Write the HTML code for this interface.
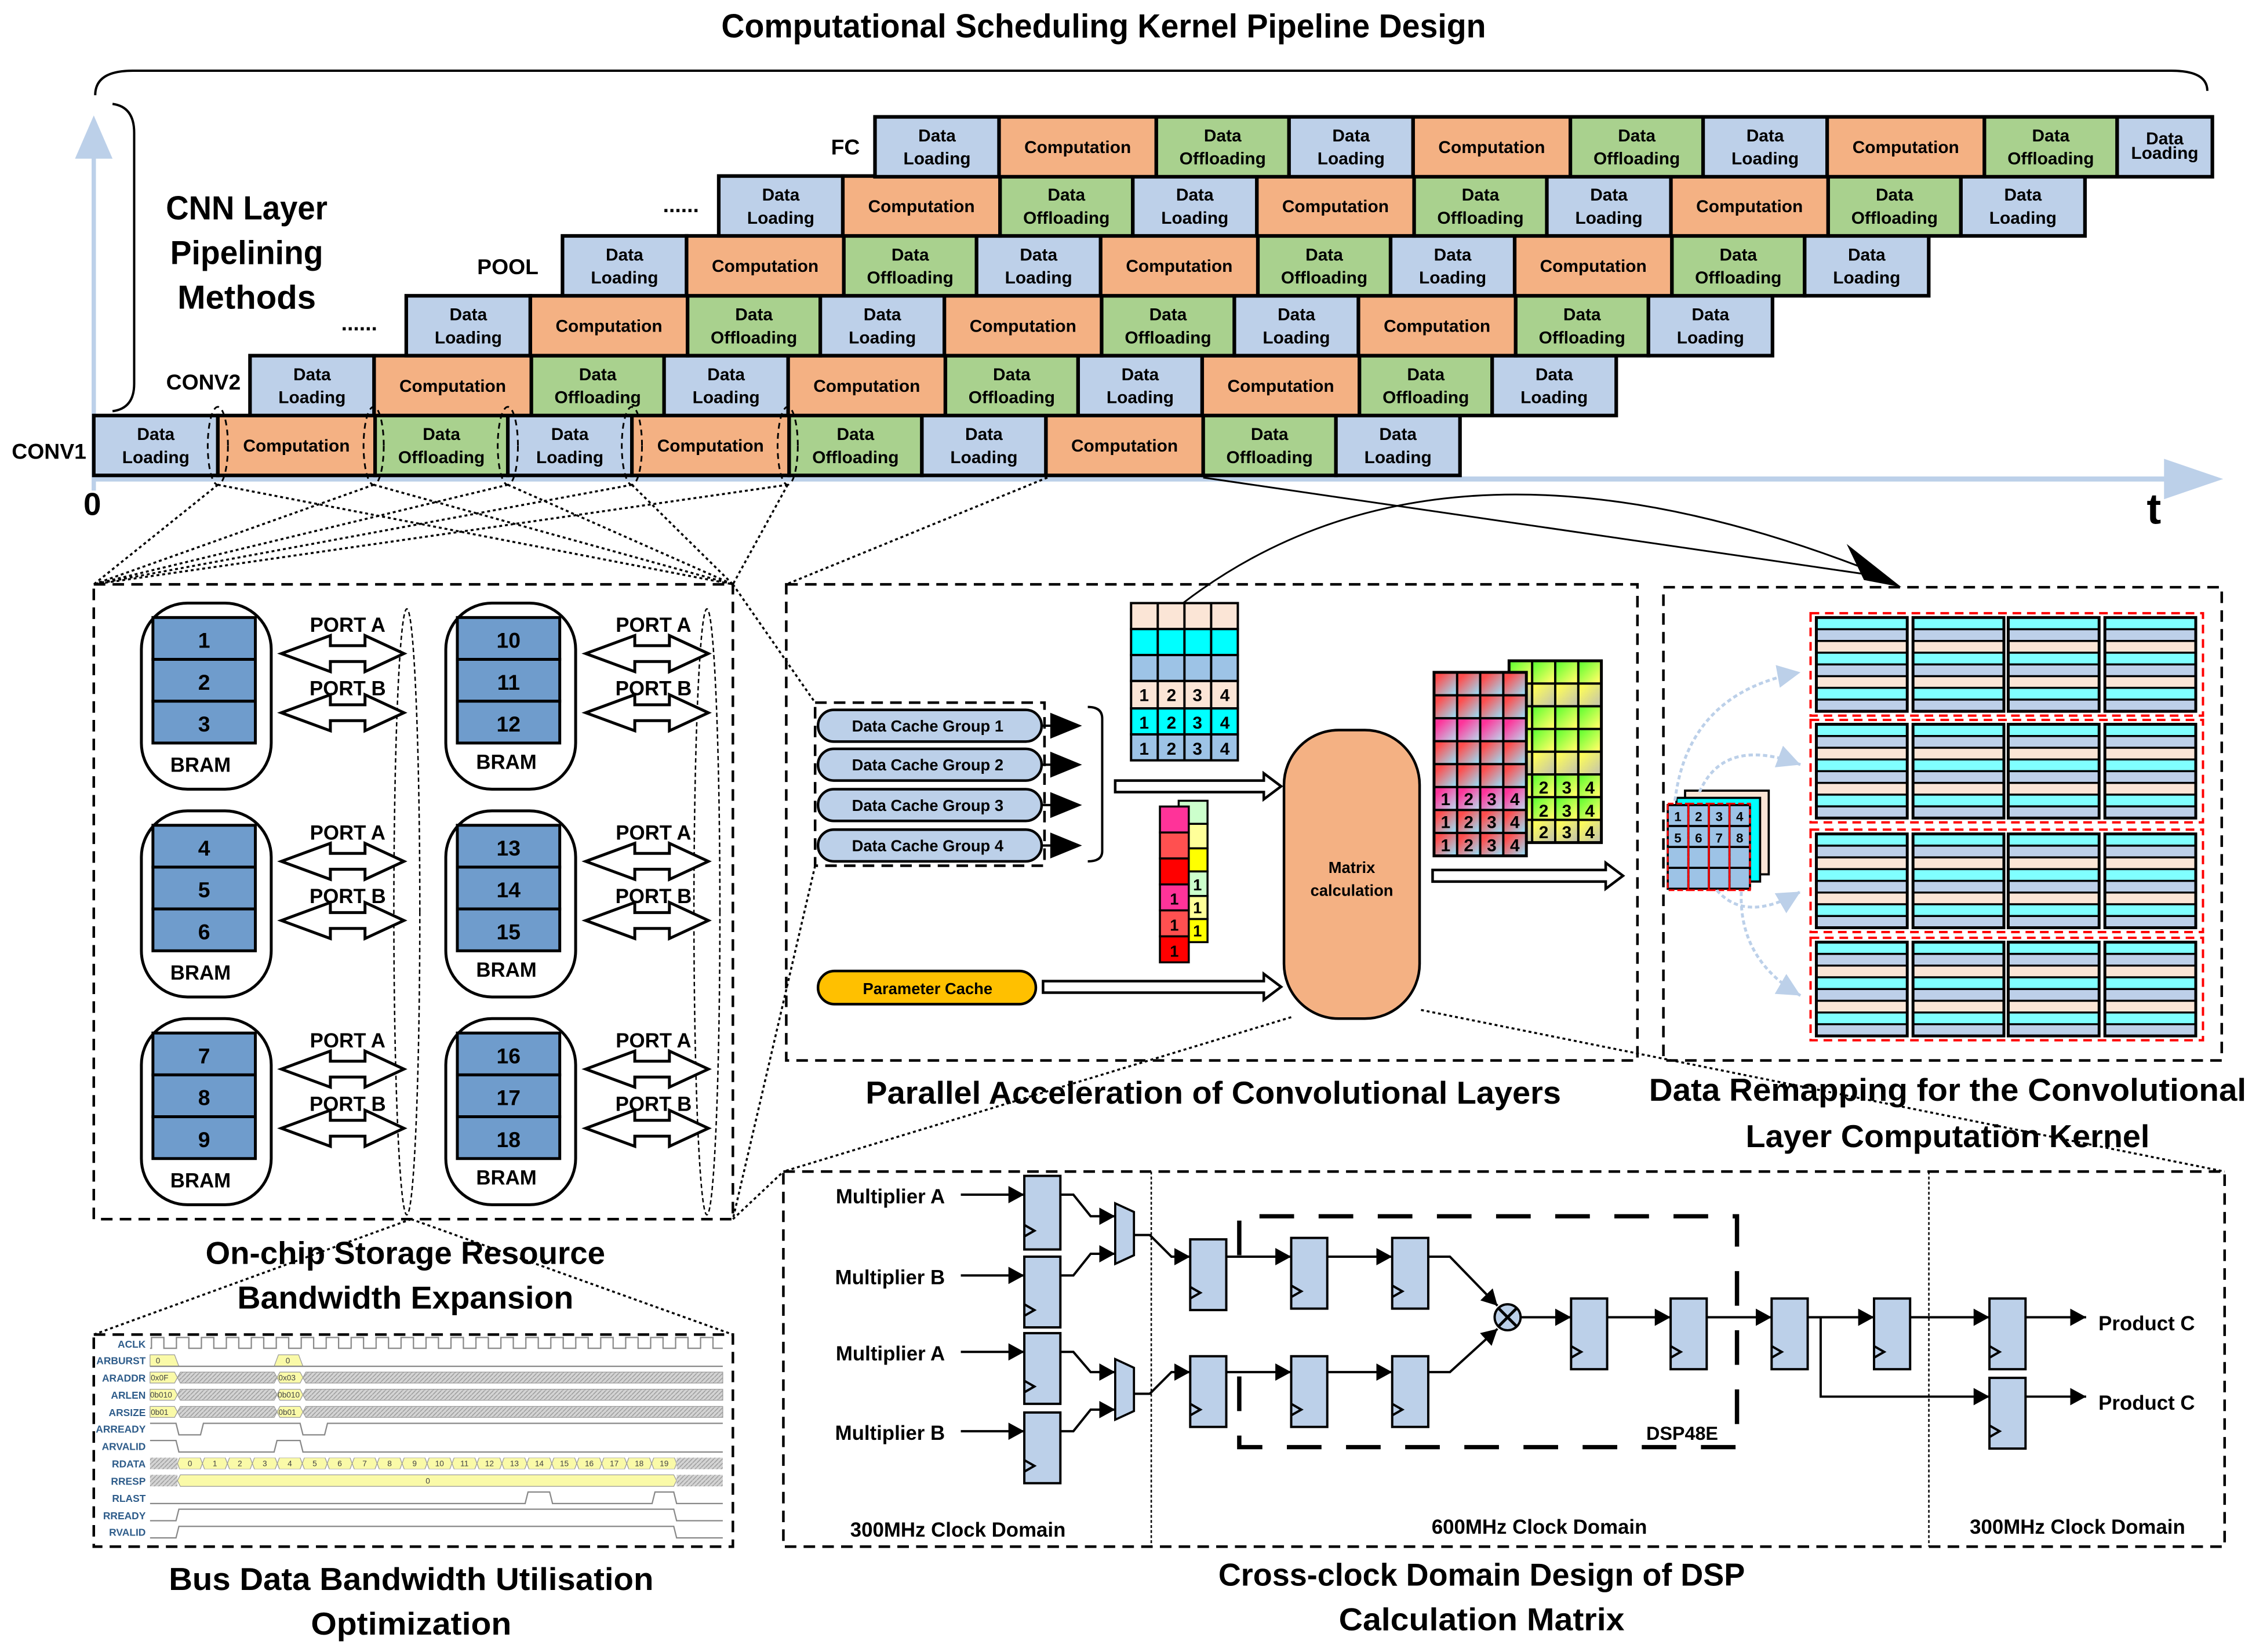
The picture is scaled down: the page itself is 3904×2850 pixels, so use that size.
<!DOCTYPE html>
<html><head><meta charset="utf-8"><style>
html,body{margin:0;padding:0;background:#fff}
svg{display:block}
text{font-family:"Liberation Sans Narrow","Liberation Sans",sans-serif;font-weight:bold;fill:#000}
.t{font-size:12px;text-anchor:middle}
.b{stroke:#000;stroke-width:2.5}
.dl{fill:#bdd0e9}.c{fill:#f4b183}.do{fill:#a9d18e}
.dot{stroke:#000;stroke-width:1.4;stroke-dasharray:2,2;fill:none}
.dsh{stroke:#000;stroke-width:1.8;stroke-dasharray:8,5;fill:none}
.reg{fill:#bcd0e9;stroke:#000;stroke-width:1.6}
.w{stroke:#000;stroke-width:1.6;fill:none}
.g{stroke:#888;stroke-width:0.9;fill:none}
.tl{font-size:7px;text-anchor:end;fill:#2e5c8a}
.tv{font-size:5.5px;fill:#444;font-weight:normal}
.cap{font-size:22px;text-anchor:middle}
</style></head><body>
<svg xmlns="http://www.w3.org/2000/svg" width="3904" height="2850" viewBox="0 0 1568.6 1145" preserveAspectRatio="none">
<defs>
<marker id="ah" markerUnits="userSpaceOnUse" markerWidth="14" markerHeight="14" refX="11" refY="6" orient="auto"><path d="M0,0 L11,6 L0,12 Z" fill="#000"/></marker>
<marker id="ahb" markerUnits="userSpaceOnUse" markerWidth="20" markerHeight="20" refX="16" refY="8" orient="auto"><path d="M0,0 L16,8 L0,16 Z" fill="#bcd0e9"/></marker>
<pattern id="clk" patternUnits="userSpaceOnUse" x="104" y="926" width="17.3" height="10"><path d="M0,8.5 H1 V1 H9.6 V8.5 H17.3" stroke="#888" stroke-width="0.9" fill="none"/></pattern>
<pattern id="hatch" patternUnits="userSpaceOnUse" width="3" height="3"><rect width="3" height="3" fill="#d4d4d4"/><path d="M0,3 L3,0" stroke="#999" stroke-width="0.6"/></pattern>
<pattern id="cell" patternUnits="userSpaceOnUse" x="123" y="1010.3" width="17.3" height="8"><polygon points="0,4 1.5,0 15.8,0 17.3,4 15.8,8 1.5,8" fill="#fafaa8" stroke="#999" stroke-width="0.5"/></pattern>
<linearGradient id="gr1" x1="0" y1="0" x2="1" y2="1"><stop offset="0.2" stop-color="#ff4d4d"/><stop offset="0.9" stop-color="#9fd6ee"/></linearGradient>
<linearGradient id="gr2" x1="0" y1="0" x2="1" y2="1"><stop offset="0.2" stop-color="#ff3399"/><stop offset="0.9" stop-color="#c0cce8"/></linearGradient>
<linearGradient id="gr3" x1="0" y1="0" x2="1" y2="1"><stop offset="0.1" stop-color="#66ff33"/><stop offset="0.9" stop-color="#ffff66"/></linearGradient>
<linearGradient id="gr4" x1="0" y1="0" x2="1" y2="1"><stop offset="0.1" stop-color="#ffff55"/><stop offset="0.9" stop-color="#c8c8a8"/></linearGradient>
<pattern id="pf1" patternUnits="userSpaceOnUse" x="994" y="466" width="16" height="15.9"><rect width="16" height="15.9" fill="url(#gr1)" stroke="#000" stroke-width="1.6"/></pattern>
<pattern id="pf2" patternUnits="userSpaceOnUse" x="994" y="466" width="16" height="15.9"><rect width="16" height="15.9" fill="url(#gr2)" stroke="#000" stroke-width="1.6"/></pattern>
<pattern id="pb1" patternUnits="userSpaceOnUse" x="1046" y="458" width="16" height="15.75"><rect width="16" height="15.75" fill="url(#gr3)" stroke="#000" stroke-width="1.6"/></pattern>
<pattern id="pb2" patternUnits="userSpaceOnUse" x="1046" y="458" width="16" height="15.75"><rect width="16" height="15.75" fill="url(#gr4)" stroke="#000" stroke-width="1.6"/></pattern>
<g id="rcol">
<rect x="0" y="0" width="63" height="8.125" fill="#80ffff"/><rect x="0" y="8.125" width="63" height="8.125" fill="#bdd0e9"/><rect x="0" y="16.25" width="63" height="8.125" fill="#fbe5d6"/><rect x="0" y="24.375" width="63" height="8.125" fill="#80ffff"/><rect x="0" y="32.5" width="63" height="8.125" fill="#bdd0e9"/><rect x="0" y="40.625" width="63" height="8.125" fill="#fbe5d6"/><rect x="0" y="48.75" width="63" height="8.125" fill="#80ffff"/><rect x="0" y="56.875" width="63" height="8.125" fill="#bdd0e9"/>
<path d="M0,8.125H63M0,16.25H63M0,24.375H63M0,32.5H63M0,40.625H63M0,48.75H63M0,56.875H63" stroke="#000" stroke-width="1.4"/>
<rect x="0" y="0" width="63" height="65" fill="none" stroke="#000" stroke-width="2"/>
</g>
<g id="rgrp">
<rect x="-4" y="-3" width="272" height="71" fill="none" stroke="#ff0000" stroke-width="1.6" stroke-dasharray="6,4"/>
<use href="#rcol" x="0"/><use href="#rcol" x="67"/><use href="#rcol" x="133"/><use href="#rcol" x="200"/>
</g>
<g id="bus">
<polygon points="104,-3.8 121,-3.8 123,0 121,3.8 104,3.8" fill="#fafaa8" stroke="#999" stroke-width="0.5"/>
<polygon points="123,0 125,-3.8 190,-3.8 192,0 190,3.8 125,3.8" fill="url(#hatch)" stroke="#999" stroke-width="0.5"/>
<polygon points="192,0 194,-3.8 208,-3.8 210,0 208,3.8 194,3.8" fill="#fafaa8" stroke="#999" stroke-width="0.5"/>
<polygon points="210,0 212,-3.8 501,-3.8 501,3.8 212,3.8" fill="url(#hatch)" stroke="#999" stroke-width="0.5"/>
</g>
<g id="dreg"><rect class="reg" x="0" y="0" width="25" height="49"/><polyline class="w" stroke-width="1.2" points="0,33 7,37 0,41"/></g>
<g id="dreg2"><rect class="reg" x="0" y="0" width="25" height="51"/><polyline class="w" stroke-width="1.2" points="0,34 7,38 0,42"/></g>
</defs>

<text x="765" y="26" font-size="23" text-anchor="middle" textLength="530" lengthAdjust="spacingAndGlyphs">Computational Scheduling Kernel Pipeline Design</text>
<path d="M66,66 Q66,49 92,49 L1505,49 Q1530,49 1530,63" class="w" stroke-width="2.5"/>
<path d="M78,72 Q93,74 93,92 L93,266 Q93,283 78,285" class="w" stroke-width="2.5"/>
<text x="171" y="152" font-size="23" text-anchor="middle" textLength="112" lengthAdjust="spacingAndGlyphs">CNN Layer</text>
<text x="171" y="183" font-size="23" text-anchor="middle" textLength="106" lengthAdjust="spacingAndGlyphs">Pipelining</text>
<text x="171" y="214" font-size="23" text-anchor="middle" textLength="96" lengthAdjust="spacingAndGlyphs">Methods</text>

<line x1="65" y1="340" x2="65" y2="108" stroke="#bcd0e9" stroke-width="3"/>
<polygon points="52,110 65,80 78,110" fill="#bcd0e9"/>
<line x1="65" y1="332" x2="1505" y2="332" stroke="#bcd0e9" stroke-width="3.5"/>
<polygon points="1500,318 1541,332 1500,346" fill="#bcd0e9"/>
<text x="64" y="357" font-size="22" text-anchor="middle">0</text>
<text x="1493" y="363" font-size="30" text-anchor="middle">t</text>

<text x="34" y="318" font-size="15" text-anchor="middle">CONV1</text>
<text x="141" y="270" font-size="15" text-anchor="middle">CONV2</text>
<text x="249" y="229" font-size="15" text-anchor="middle">......</text>
<text x="352" y="190" font-size="15" text-anchor="middle">POOL</text>
<text x="472" y="147" font-size="15" text-anchor="middle">......</text>
<text x="586" y="107" font-size="15" text-anchor="middle">FC</text>

<g transform="translate(65,288)">
<g><rect class="b dl" x="0" width="86" height="41.5"/><text class="t" x="43" y="17">Data</text><text class="t" x="43" y="33">Loading</text><rect class="b c" x="86" width="109" height="41.5"/><text class="t" x="140.5" y="25">Computation</text><rect class="b do" x="195" width="92" height="41.5"/><text class="t" x="241" y="17">Data</text><text class="t" x="241" y="33">Offloading</text></g>
<g transform="translate(287,0)"><rect class="b dl" x="0" width="86" height="41.5"/><text class="t" x="43" y="17">Data</text><text class="t" x="43" y="33">Loading</text><rect class="b c" x="86" width="109" height="41.5"/><text class="t" x="140.5" y="25">Computation</text><rect class="b do" x="195" width="92" height="41.5"/><text class="t" x="241" y="17">Data</text><text class="t" x="241" y="33">Offloading</text></g>
<g transform="translate(574,0)"><rect class="b dl" x="0" width="86" height="41.5"/><text class="t" x="43" y="17">Data</text><text class="t" x="43" y="33">Loading</text><rect class="b c" x="86" width="109" height="41.5"/><text class="t" x="140.5" y="25">Computation</text><rect class="b do" x="195" width="92" height="41.5"/><text class="t" x="241" y="17">Data</text><text class="t" x="241" y="33">Offloading</text></g>
<g transform="translate(861,0)"><rect class="b dl" x="0" width="86" height="41.5"/><text class="t" x="43" y="17">Data</text><text class="t" x="43" y="33">Loading</text></g>
</g>
<g transform="translate(173.3,246.5)">
<g><rect class="b dl" x="0" width="86" height="41.5"/><text class="t" x="43" y="17">Data</text><text class="t" x="43" y="33">Loading</text><rect class="b c" x="86" width="109" height="41.5"/><text class="t" x="140.5" y="25">Computation</text><rect class="b do" x="195" width="92" height="41.5"/><text class="t" x="241" y="17">Data</text><text class="t" x="241" y="33">Offloading</text></g>
<g transform="translate(287,0)"><rect class="b dl" x="0" width="86" height="41.5"/><text class="t" x="43" y="17">Data</text><text class="t" x="43" y="33">Loading</text><rect class="b c" x="86" width="109" height="41.5"/><text class="t" x="140.5" y="25">Computation</text><rect class="b do" x="195" width="92" height="41.5"/><text class="t" x="241" y="17">Data</text><text class="t" x="241" y="33">Offloading</text></g>
<g transform="translate(574,0)"><rect class="b dl" x="0" width="86" height="41.5"/><text class="t" x="43" y="17">Data</text><text class="t" x="43" y="33">Loading</text><rect class="b c" x="86" width="109" height="41.5"/><text class="t" x="140.5" y="25">Computation</text><rect class="b do" x="195" width="92" height="41.5"/><text class="t" x="241" y="17">Data</text><text class="t" x="241" y="33">Offloading</text></g>
<g transform="translate(861,0)"><rect class="b dl" x="0" width="86" height="41.5"/><text class="t" x="43" y="17">Data</text><text class="t" x="43" y="33">Loading</text></g>
</g>
<g transform="translate(281.6,205)">
<g><rect class="b dl" x="0" width="86" height="41.5"/><text class="t" x="43" y="17">Data</text><text class="t" x="43" y="33">Loading</text><rect class="b c" x="86" width="109" height="41.5"/><text class="t" x="140.5" y="25">Computation</text><rect class="b do" x="195" width="92" height="41.5"/><text class="t" x="241" y="17">Data</text><text class="t" x="241" y="33">Offloading</text></g>
<g transform="translate(287,0)"><rect class="b dl" x="0" width="86" height="41.5"/><text class="t" x="43" y="17">Data</text><text class="t" x="43" y="33">Loading</text><rect class="b c" x="86" width="109" height="41.5"/><text class="t" x="140.5" y="25">Computation</text><rect class="b do" x="195" width="92" height="41.5"/><text class="t" x="241" y="17">Data</text><text class="t" x="241" y="33">Offloading</text></g>
<g transform="translate(574,0)"><rect class="b dl" x="0" width="86" height="41.5"/><text class="t" x="43" y="17">Data</text><text class="t" x="43" y="33">Loading</text><rect class="b c" x="86" width="109" height="41.5"/><text class="t" x="140.5" y="25">Computation</text><rect class="b do" x="195" width="92" height="41.5"/><text class="t" x="241" y="17">Data</text><text class="t" x="241" y="33">Offloading</text></g>
<g transform="translate(861,0)"><rect class="b dl" x="0" width="86" height="41.5"/><text class="t" x="43" y="17">Data</text><text class="t" x="43" y="33">Loading</text></g>
</g>
<g transform="translate(389.9,163.5)">
<g><rect class="b dl" x="0" width="86" height="41.5"/><text class="t" x="43" y="17">Data</text><text class="t" x="43" y="33">Loading</text><rect class="b c" x="86" width="109" height="41.5"/><text class="t" x="140.5" y="25">Computation</text><rect class="b do" x="195" width="92" height="41.5"/><text class="t" x="241" y="17">Data</text><text class="t" x="241" y="33">Offloading</text></g>
<g transform="translate(287,0)"><rect class="b dl" x="0" width="86" height="41.5"/><text class="t" x="43" y="17">Data</text><text class="t" x="43" y="33">Loading</text><rect class="b c" x="86" width="109" height="41.5"/><text class="t" x="140.5" y="25">Computation</text><rect class="b do" x="195" width="92" height="41.5"/><text class="t" x="241" y="17">Data</text><text class="t" x="241" y="33">Offloading</text></g>
<g transform="translate(574,0)"><rect class="b dl" x="0" width="86" height="41.5"/><text class="t" x="43" y="17">Data</text><text class="t" x="43" y="33">Loading</text><rect class="b c" x="86" width="109" height="41.5"/><text class="t" x="140.5" y="25">Computation</text><rect class="b do" x="195" width="92" height="41.5"/><text class="t" x="241" y="17">Data</text><text class="t" x="241" y="33">Offloading</text></g>
<g transform="translate(861,0)"><rect class="b dl" x="0" width="86" height="41.5"/><text class="t" x="43" y="17">Data</text><text class="t" x="43" y="33">Loading</text></g>
</g>
<g transform="translate(498.2,122)">
<g><rect class="b dl" x="0" width="86" height="41.5"/><text class="t" x="43" y="17">Data</text><text class="t" x="43" y="33">Loading</text><rect class="b c" x="86" width="109" height="41.5"/><text class="t" x="140.5" y="25">Computation</text><rect class="b do" x="195" width="92" height="41.5"/><text class="t" x="241" y="17">Data</text><text class="t" x="241" y="33">Offloading</text></g>
<g transform="translate(287,0)"><rect class="b dl" x="0" width="86" height="41.5"/><text class="t" x="43" y="17">Data</text><text class="t" x="43" y="33">Loading</text><rect class="b c" x="86" width="109" height="41.5"/><text class="t" x="140.5" y="25">Computation</text><rect class="b do" x="195" width="92" height="41.5"/><text class="t" x="241" y="17">Data</text><text class="t" x="241" y="33">Offloading</text></g>
<g transform="translate(574,0)"><rect class="b dl" x="0" width="86" height="41.5"/><text class="t" x="43" y="17">Data</text><text class="t" x="43" y="33">Loading</text><rect class="b c" x="86" width="109" height="41.5"/><text class="t" x="140.5" y="25">Computation</text><rect class="b do" x="195" width="92" height="41.5"/><text class="t" x="241" y="17">Data</text><text class="t" x="241" y="33">Offloading</text></g>
<g transform="translate(861,0)"><rect class="b dl" x="0" width="86" height="41.5"/><text class="t" x="43" y="17">Data</text><text class="t" x="43" y="33">Loading</text></g>
</g>
<g transform="translate(606.5,81)">
<g><rect class="b dl" x="0" width="86" height="41.5"/><text class="t" x="43" y="17">Data</text><text class="t" x="43" y="33">Loading</text><rect class="b c" x="86" width="109" height="41.5"/><text class="t" x="140.5" y="25">Computation</text><rect class="b do" x="195" width="92" height="41.5"/><text class="t" x="241" y="17">Data</text><text class="t" x="241" y="33">Offloading</text></g>
<g transform="translate(287,0)"><rect class="b dl" x="0" width="86" height="41.5"/><text class="t" x="43" y="17">Data</text><text class="t" x="43" y="33">Loading</text><rect class="b c" x="86" width="109" height="41.5"/><text class="t" x="140.5" y="25">Computation</text><rect class="b do" x="195" width="92" height="41.5"/><text class="t" x="241" y="17">Data</text><text class="t" x="241" y="33">Offloading</text></g>
<g transform="translate(574,0)"><rect class="b dl" x="0" width="86" height="41.5"/><text class="t" x="43" y="17">Data</text><text class="t" x="43" y="33">Loading</text><rect class="b c" x="86" width="109" height="41.5"/><text class="t" x="140.5" y="25">Computation</text><rect class="b do" x="195" width="92" height="41.5"/><text class="t" x="241" y="17">Data</text><text class="t" x="241" y="33">Offloading</text></g>
<g transform="translate(861,0)"><rect class="b dl" x="0" width="66" height="41.5"/><text class="t" x="33" y="19" font-size="8">Data</text><text class="t" x="33" y="29" font-size="8">Loading</text></g>
</g>

<g fill="none" stroke="#000" stroke-width="1.2" stroke-dasharray="4,3">
<ellipse cx="151" cy="309" rx="7" ry="27"/><ellipse cx="259" cy="309" rx="7" ry="27"/><ellipse cx="352" cy="309" rx="7" ry="27"/><ellipse cx="438" cy="309" rx="7" ry="27"/><ellipse cx="546" cy="309" rx="7" ry="27"/>
</g>
<path class="dot" d="M151,336 L65,405 M151,336 L508,405 M259,336 L65,405 M259,336 L508,405 M352,336 L65,405 M352,336 L508,405 M438,336 L65,405 M438,336 L508,405 M546,336 L65,405 M546,336 L508,405"/>
<path class="dot" d="M726,331 L545,405 M508,405 L565,487 M565,600 L508,845 M508,845 L543,812 M285,845 L65,925 M285,845 L508,925 M895,705 L543,812 M985,700 L1542,812"/>

<path d="M834,331 L1300,399" stroke="#000" stroke-width="1.2" fill="none"/>
<path d="M820,418 Q1000,280 1295,395" stroke="#000" stroke-width="1.2" fill="none"/>
<polygon points="1318,407 1280,377 1292,402" fill="#000"/>

<rect class="dsh" x="65" y="405" width="443" height="440" stroke-width="1.8" stroke-dasharray="9,5"/>
<g fill="none" stroke="#000" stroke-width="1" stroke-dasharray="3,2"><ellipse cx="282" cy="632" rx="9" ry="210"/><ellipse cx="490" cy="632" rx="9" ry="210"/></g>
<g id="bramset">
<rect x="98" y="418" width="90" height="129" rx="32" fill="#fff" stroke="#000" stroke-width="2"/>
<rect x="106" y="428" width="71" height="29" fill="#6f9ccc" stroke="#000" stroke-width="2"/><rect x="106" y="457" width="71" height="29" fill="#6f9ccc" stroke="#000" stroke-width="2"/><rect x="106" y="486" width="71" height="29" fill="#6f9ccc" stroke="#000" stroke-width="2"/>
<path d="M195,453 L229,440.5 L229,447.5 L253,447.5 L253,440.5 L280,453 L253,465.5 L253,458.5 L229,458.5 L229,465.5 Z M195,494 L229,481.5 L229,488.5 L253,488.5 L253,481.5 L280,494 L253,506.5 L253,499.5 L229,499.5 L229,506.5 Z" fill="#fff" stroke="#000" stroke-width="2"/>
</g>
<use href="#bramset" y="144"/><use href="#bramset" y="288"/>
<use href="#bramset" x="211"/><use href="#bramset" x="211" y="144"/><use href="#bramset" x="211" y="288"/>
<g font-size="15" text-anchor="middle">
<text x="141.5" y="449">1</text><text x="141.5" y="478">2</text><text x="141.5" y="507">3</text>
<text x="141.5" y="593">4</text><text x="141.5" y="622">5</text><text x="141.5" y="651">6</text>
<text x="141.5" y="737">7</text><text x="141.5" y="766">8</text><text x="141.5" y="795">9</text>
<text x="352.5" y="449">10</text><text x="352.5" y="478">11</text><text x="352.5" y="507">12</text>
<text x="352.5" y="593">13</text><text x="352.5" y="622">14</text><text x="352.5" y="651">15</text>
<text x="352.5" y="737">16</text><text x="352.5" y="766">17</text><text x="352.5" y="795">18</text>
</g>
<g font-size="14" text-anchor="middle">
<text x="139" y="535">BRAM</text><text x="139" y="679">BRAM</text><text x="139" y="823">BRAM</text>
<text x="351" y="533">BRAM</text><text x="351" y="677">BRAM</text><text x="351" y="821">BRAM</text>
<text x="241" y="438">PORT A</text><text x="241" y="482">PORT B</text><text x="241" y="582">PORT A</text><text x="241" y="626">PORT B</text><text x="241" y="726">PORT A</text><text x="241" y="770">PORT B</text>
<text x="453" y="438">PORT A</text><text x="453" y="482">PORT B</text><text x="453" y="582">PORT A</text><text x="453" y="626">PORT B</text><text x="453" y="726">PORT A</text><text x="453" y="770">PORT B</text>
</g>
<text class="cap" x="281" y="876" textLength="277" lengthAdjust="spacingAndGlyphs">On-chip Storage Resource</text>
<text class="cap" x="281" y="907" textLength="233" lengthAdjust="spacingAndGlyphs">Bandwidth Expansion</text>

<rect class="dsh" x="65" y="925" width="443" height="147" stroke-dasharray="7,4"/>
<rect x="104" y="926" width="397" height="10" fill="url(#clk)"/>
<polygon points="104,939 121,939 124,947 104,947" fill="#fafaa8" stroke="#999" stroke-width="0.5"/>
<polygon points="190,947 193,939 207,939 210,947" fill="#fafaa8" stroke="#999" stroke-width="0.5"/>
<line x1="104" y1="947" x2="501" y2="947" class="g"/>
<use href="#bus" y="954.8"/><use href="#bus" y="966.7"/><use href="#bus" y="978.6"/>
<polyline class="g" points="104,986.5 122,986.5 124,994.5 139,994.5 141,986.5 208,986.5 210,994.5 225,994.5 227,986.5 501,986.5"/>
<polyline class="g" points="104,998.4 122,998.4 124,1006.4 190,1006.4 192,998.4 208,998.4 210,1006.4 501,1006.4"/>
<rect x="104" y="1010.3" width="19" height="8" fill="url(#hatch)"/>
<rect x="123" y="1010.3" width="346" height="8" fill="url(#cell)"/>
<rect x="469" y="1010.3" width="32" height="8" fill="url(#hatch)"/>
<rect x="104" y="1022.2" width="19" height="8" fill="url(#hatch)"/>
<polygon points="123,1026.2 125,1022.2 467,1022.2 469,1026.2 467,1030.2 125,1030.2" fill="#fafaa8" stroke="#999" stroke-width="0.5"/>
<rect x="469" y="1022.2" width="32" height="8" fill="url(#hatch)"/>
<polyline class="g" points="104,1042.1 364,1042.1 366,1034.1 381,1034.1 383,1042.1 452,1042.1 454,1034.1 467,1034.1 469,1042.1 501,1042.1"/>
<polyline class="g" points="104,1054 122,1054 124,1046 467,1046 469,1054 501,1054"/>
<polyline class="g" points="104,1065.9 122,1065.9 124,1057.9 467,1057.9 469,1065.9 501,1065.9"/>
<g class="tl">
<text class="tl" x="101" y="934">ACLK</text><text class="tl" x="101" y="945.5">ARBURST</text><text class="tl" x="101" y="957.5">ARADDR</text><text class="tl" x="101" y="969.5">ARLEN</text><text class="tl" x="101" y="981.5">ARSIZE</text><text class="tl" x="101" y="993">ARREADY</text><text class="tl" x="101" y="1005">ARVALID</text><text class="tl" x="101" y="1017">RDATA</text><text class="tl" x="101" y="1029">RRESP</text><text class="tl" x="101" y="1041">RLAST</text><text class="tl" x="101" y="1053">RREADY</text><text class="tl" x="101" y="1064.5">RVALID</text>
</g>
<g class="tv">
<text class="tv" x="108" y="945">0</text><text class="tv" x="198" y="945">0</text>
<text class="tv" x="104.5" y="956.8">0x0F</text><text class="tv" x="193" y="956.8">0x03</text>
<text class="tv" x="104" y="968.7">0b010</text><text class="tv" x="192.5" y="968.7">0b010</text>
<text class="tv" x="104.5" y="980.6">0b01</text><text class="tv" x="193" y="980.6">0b01</text>
<text class="tv" x="295" y="1028.2">0</text>
</g>
<g class="tv" text-anchor="middle">
<text class="tv" text-anchor="middle" x="131.65" y="1016.3">0</text><text class="tv" text-anchor="middle" x="148.95" y="1016.3">1</text><text class="tv" text-anchor="middle" x="166.25" y="1016.3">2</text><text class="tv" text-anchor="middle" x="183.55" y="1016.3">3</text><text class="tv" text-anchor="middle" x="200.85" y="1016.3">4</text><text class="tv" text-anchor="middle" x="218.15" y="1016.3">5</text><text class="tv" text-anchor="middle" x="235.45" y="1016.3">6</text><text class="tv" text-anchor="middle" x="252.75" y="1016.3">7</text><text class="tv" text-anchor="middle" x="270.05" y="1016.3">8</text><text class="tv" text-anchor="middle" x="287.35" y="1016.3">9</text><text class="tv" text-anchor="middle" x="304.65" y="1016.3">10</text><text class="tv" text-anchor="middle" x="321.95" y="1016.3">11</text><text class="tv" text-anchor="middle" x="339.25" y="1016.3">12</text><text class="tv" text-anchor="middle" x="356.55" y="1016.3">13</text><text class="tv" text-anchor="middle" x="373.85" y="1016.3">14</text><text class="tv" text-anchor="middle" x="391.15" y="1016.3">15</text><text class="tv" text-anchor="middle" x="408.45" y="1016.3">16</text><text class="tv" text-anchor="middle" x="425.75" y="1016.3">17</text><text class="tv" text-anchor="middle" x="443.05" y="1016.3">18</text><text class="tv" text-anchor="middle" x="460.35" y="1016.3">19</text>
</g>
<text class="cap" x="285" y="1102" textLength="336" lengthAdjust="spacingAndGlyphs">Bus Data Bandwidth Utilisation</text>
<text class="cap" x="285" y="1133" textLength="139" lengthAdjust="spacingAndGlyphs">Optimization</text>

<rect class="dsh" x="545" y="405" width="590" height="330" stroke-dasharray="9,5"/>
<rect class="dsh" x="565" y="487" width="159" height="113" stroke-width="1.5" stroke-dasharray="6,4"/>
<g stroke="#000" stroke-width="1.8" fill="#bcd0e9">
<rect x="567" y="492" width="155" height="22" rx="11"/><rect x="567" y="519" width="155" height="22" rx="11"/><rect x="567" y="547" width="155" height="22" rx="11"/><rect x="567" y="575" width="155" height="22" rx="11"/>
<rect x="567" y="673" width="151" height="23" rx="11.5" fill="#ffc000"/>
</g>
<g font-size="11" text-anchor="middle">
<text x="643" y="507">Data Cache Group 1</text><text x="643" y="534">Data Cache Group 2</text><text x="643" y="562">Data Cache Group 3</text><text x="643" y="590">Data Cache Group 4</text>
<text x="643" y="689">Parameter Cache</text>
</g>
<g fill="#000"><path d="M722,503H729M722,530H729M722,558H729M722,586H729" stroke="#000" stroke-width="1.6"/>
<polygon points="728,494 750,503 728,512"/><polygon points="728,521 750,530 728,539"/><polygon points="728,549 750,558 728,567"/><polygon points="728,577 750,586 728,595"/></g>
<path d="M754,490 Q764,490 764,498 L764,590 Q764,597 754,597" class="w"/>
<g fill="#fff" stroke="#000" stroke-width="1.8">
<path d="M773,541 H876 V536 L888,545 L876,554 V549 H773 Z"/>
<path d="M723,680 H876 V675 L888,684 L876,693 V688 H723 Z"/>
<path d="M993,603 H1113 V598 L1125,607 L1113,616 V611 H993 Z"/>
</g>
<g stroke="#000" stroke-width="1.6">
<rect x="784" y="418" width="74" height="18" fill="#fbe5d6"/><rect x="784" y="436" width="74" height="18" fill="#00ffff"/><rect x="784" y="454" width="74" height="18" fill="#9dc3e6"/><rect x="784" y="472" width="74" height="19" fill="#fbe5d6"/><rect x="784" y="491" width="74" height="18" fill="#00ffff"/><rect x="784" y="509" width="74" height="18" fill="#9dc3e6"/>
<path d="M802.5,418V527M821,418V527M839.5,418V527" fill="none"/>
</g>
<g font-size="12" text-anchor="middle">
<text x="793" y="486" font-weight="normal">1</text><text x="812" y="486" font-weight="normal">2</text><text x="830" y="486" font-weight="normal">3</text><text x="849" y="486" font-weight="normal">4</text>
<text x="793" y="505" font-weight="normal">1</text><text x="812" y="505" font-weight="normal">2</text><text x="830" y="505" font-weight="normal">3</text><text x="849" y="505" font-weight="normal">4</text>
<text x="793" y="523" font-weight="normal">1</text><text x="812" y="523" font-weight="normal">2</text><text x="830" y="523" font-weight="normal">3</text><text x="849" y="523" font-weight="normal">4</text>
</g>
<g stroke="#000" stroke-width="1.4">
<rect x="817" y="555" width="20" height="16" fill="#ccffcc"/><rect x="817" y="571" width="20" height="17" fill="#ffff99"/><rect x="817" y="588" width="20" height="16" fill="#ffff00"/><rect x="817" y="604" width="20" height="17" fill="#ccffcc"/><rect x="817" y="621" width="20" height="16" fill="#ffff99"/><rect x="817" y="637" width="20" height="16" fill="#ffff00"/>
<rect x="804" y="559" width="20" height="18" fill="#ff3399"/><rect x="804" y="577" width="20" height="18" fill="#ff5050"/><rect x="804" y="595" width="20" height="18" fill="#ff0000"/><rect x="804" y="613" width="20" height="18" fill="#ff3399"/><rect x="804" y="631" width="20" height="18" fill="#ff5050"/><rect x="804" y="649" width="20" height="18" fill="#ff0000"/>
</g>
<g font-size="11" text-anchor="middle">
<text x="830" y="617" font-weight="normal">1</text><text x="830" y="633" font-weight="normal">1</text><text x="830" y="649" font-weight="normal">1</text>
<text x="814" y="627" font-weight="normal">1</text><text x="814" y="645" font-weight="normal">1</text><text x="814" y="663" font-weight="normal">1</text>
</g>
<rect x="890" y="506" width="94" height="200" rx="38" fill="#f4b183" stroke="#000" stroke-width="1.8"/>
<text x="937" y="605" font-size="11" text-anchor="middle">Matrix</text>
<text x="937" y="621" font-size="11" text-anchor="middle">calculation</text>
<rect x="1046" y="458" width="64" height="126" fill="url(#pb1)"/>
<rect x="1046" y="473.75" width="64" height="15.75" fill="url(#pb2)"/><rect x="1046" y="521" width="64" height="15.75" fill="url(#pb2)"/><rect x="1046" y="568.25" width="64" height="15.75" fill="url(#pb2)"/>
<rect x="1046" y="458" width="64" height="126" fill="none" stroke="#000" stroke-width="2"/>
<g font-size="12" text-anchor="middle"><text x="1070" y="550" font-weight="normal">2</text><text x="1086" y="550" font-weight="normal">3</text><text x="1102" y="550" font-weight="normal">4</text><text x="1070" y="566" font-weight="normal">2</text><text x="1086" y="566" font-weight="normal">3</text><text x="1102" y="566" font-weight="normal">4</text><text x="1070" y="581" font-weight="normal">2</text><text x="1086" y="581" font-weight="normal">3</text><text x="1102" y="581" font-weight="normal">4</text></g>
<rect x="994" y="466" width="64" height="127.2" fill="url(#pf1)"/>
<rect x="994" y="497.8" width="64" height="15.9" fill="url(#pf2)"/><rect x="994" y="545.5" width="64" height="15.9" fill="url(#pf2)"/>
<rect x="994" y="466" width="64" height="127.2" fill="none" stroke="#000" stroke-width="2"/>
<g font-size="12" text-anchor="middle"><text x="1002" y="558" font-weight="normal">1</text><text x="1018" y="558" font-weight="normal">2</text><text x="1034" y="558" font-weight="normal">3</text><text x="1050" y="558" font-weight="normal">4</text><text x="1002" y="574" font-weight="normal">1</text><text x="1018" y="574" font-weight="normal">2</text><text x="1034" y="574" font-weight="normal">3</text><text x="1050" y="574" font-weight="normal">4</text><text x="1002" y="590" font-weight="normal">1</text><text x="1018" y="590" font-weight="normal">2</text><text x="1034" y="590" font-weight="normal">3</text><text x="1050" y="590" font-weight="normal">4</text></g>
<text class="cap" x="841" y="765" textLength="482" lengthAdjust="spacingAndGlyphs">Parallel Acceleration of Convolutional Layers</text>

<rect class="dsh" x="1153" y="407" width="387" height="328" stroke-dasharray="9,5"/>
<use href="#rgrp" x="1259" y="428"/><use href="#rgrp" x="1259" y="502"/><use href="#rgrp" x="1259" y="578"/><use href="#rgrp" x="1259" y="653"/>
<g stroke="#000" stroke-width="1.5">
<rect x="1168" y="548" width="58" height="58" fill="#fbe5d6"/>
<rect x="1162" y="553" width="58" height="58" fill="#00ffff"/>
<rect x="1156" y="558" width="57" height="58" fill="#9dc3e6"/>
<path d="M1170.3,558V616M1184.5,558V616M1198.8,558V616M1156,572.5H1213M1156,587H1213M1156,601.5H1213" fill="none"/>
</g>
<g fill="none" stroke="#ff0000" stroke-width="1.2" stroke-dasharray="4,2"><rect x="1156" y="557" width="14.3" height="60"/><rect x="1170.3" y="557" width="14.2" height="60"/><rect x="1184.5" y="557" width="14.3" height="60"/><rect x="1198.8" y="557" width="14.2" height="60"/></g>
<g font-size="9" text-anchor="middle"><text x="1163" y="569">1</text><text x="1177.4" y="569">2</text><text x="1191.6" y="569">3</text><text x="1205.9" y="569">4</text><text x="1163" y="584">5</text><text x="1177.4" y="584">6</text><text x="1191.6" y="584">7</text><text x="1205.9" y="584">8</text></g>
<g fill="none" stroke="#bcd0e9" stroke-width="2" stroke-dasharray="3,2">
<path d="M1161,555 Q1170,480 1248,466" marker-end="url(#ahb)"/>
<path d="M1178,549 Q1195,510 1248,530" marker-end="url(#ahb)"/>
<path d="M1190,617 Q1210,640 1248,618" marker-end="url(#ahb)"/>
<path d="M1207,618 Q1205,665 1248,690" marker-end="url(#ahb)"/>
</g>
<text class="cap" x="1350" y="763" textLength="414" lengthAdjust="spacingAndGlyphs">Data Remapping for the Convolutional</text>
<text class="cap" x="1350" y="795" textLength="280" lengthAdjust="spacingAndGlyphs">Layer Computation Kernel</text>

<rect class="dsh" x="543" y="812" width="999" height="260" stroke-dasharray="8,5"/>
<path d="M798,812V1072M1337,812V1072" stroke="#000" stroke-width="1" stroke-dasharray="2,1.5"/>
<path d="M859,870 V843 H1204 V1003 H859 V940" stroke="#000" stroke-width="3" stroke-dasharray="24,17" fill="none"/>
<g font-size="14" text-anchor="end">
<text x="655" y="834" font-weight="normal">Multiplier A</text><text x="655" y="890" font-weight="normal">Multiplier B</text><text x="655" y="943" font-weight="normal">Multiplier A</text><text x="655" y="998" font-weight="normal">Multiplier B</text>
</g>
<g class="w" marker-end="url(#ah)">
<path d="M666,828 H710"/><path d="M666,884 H710"/><path d="M666,937 H710"/><path d="M666,992 H710"/>
<path d="M735,828 H744 L756,843 H773"/><path d="M735,884 H744 L756,869 H773"/>
<path d="M735,937 H744 L756,951 H773"/><path d="M735,992 H744 L756,977 H773"/>
<path d="M786,856 H797 L812,871 H825"/><path d="M786,966 H797 L812,951 H825"/>
<path d="M850,871 H895"/><path d="M919,871 H965"/><path d="M990,871 H1005 L1038,905"/>
<path d="M850,951 H895"/><path d="M919,951 H965"/><path d="M990,951 H1005 L1038,921"/>
<path d="M1053,913 H1089"/><path d="M1113,913 H1158"/><path d="M1183,913 H1228"/><path d="M1253,913 H1299"/><path d="M1323,913 H1379"/><path d="M1404,913 H1446"/>
<path d="M1262,913 V968 H1379"/><path d="M1404,968 H1446"/>
</g>
<use href="#dreg2" x="710" y="815"/><use href="#dreg" x="710" y="871"/><use href="#dreg" x="710" y="924"/><use href="#dreg" x="710" y="979"/>
<polygon points="773,834 786,840 786,870 773,876" fill="#bcd0e9" stroke="#000" stroke-width="1.5"/>
<polygon points="773,942 786,948 786,978 773,984" fill="#bcd0e9" stroke="#000" stroke-width="1.5"/>
<use href="#dreg" x="825" y="859"/><use href="#dreg" x="825" y="940"/>
<use href="#dreg" x="895" y="858"/><use href="#dreg" x="895" y="940"/>
<use href="#dreg" x="965" y="858"/><use href="#dreg" x="965" y="940"/>
<use href="#dreg" x="1089" y="900"/><use href="#dreg" x="1158" y="900"/><use href="#dreg" x="1228" y="900"/><use href="#dreg" x="1299" y="900"/><use href="#dreg" x="1379" y="900"/><use href="#dreg" x="1379" y="955"/>
<circle cx="1045" cy="913" r="9" fill="#bcd0e9" stroke="#000" stroke-width="1.6"/>
<path d="M1039,907 L1051,919 M1051,907 L1039,919" stroke="#000" stroke-width="2"/>
<text x="1166" y="998" font-size="13" text-anchor="middle">DSP48E</text>
<text x="1488" y="922" font-size="14" text-anchor="middle">Product C</text>
<text x="1488" y="977" font-size="14" text-anchor="middle">Product C</text>
<text x="664" y="1065" font-size="14" text-anchor="middle">300MHz Clock Domain</text>
<text x="1067" y="1063" font-size="14" text-anchor="middle">600MHz Clock Domain</text>
<text x="1440" y="1063" font-size="14" text-anchor="middle">300MHz Clock Domain</text>
<text class="cap" x="1027" y="1099" textLength="365" lengthAdjust="spacingAndGlyphs">Cross-clock Domain Design of DSP</text>
<text class="cap" x="1027" y="1130" textLength="198" lengthAdjust="spacingAndGlyphs">Calculation Matrix</text>
</svg>
</body></html>
